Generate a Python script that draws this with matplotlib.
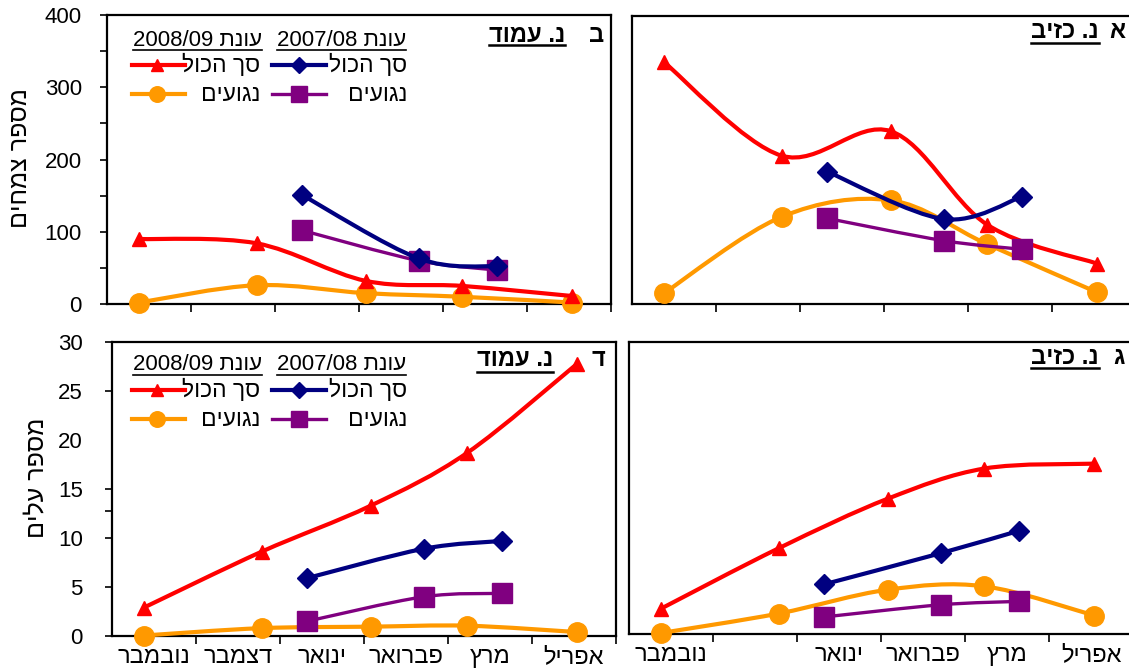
import numpy as np
import matplotlib
matplotlib.use('Agg')
import matplotlib.pyplot as plt
from matplotlib.path import Path
from matplotlib.patches import PathPatch
from matplotlib.lines import Line2D

plt.rcParams['font.family'] = ['Liberation Sans', 'DejaVu Sans']

# matplotlib has no bidi, so Hebrew strings are reversed into visual order
def heb(s):
    return s[::-1]

months = ['נובמבר', 'דצמבר', 'ינואר', 'פברואר', 'מרץ', 'אפריל']
months_kziv_leaves = ['נובמבר', '', 'ינואר', 'פברואר', 'מרץ', 'אפריל']

# sampling dates, in months from 1 November
t_0809 = [0.38, 1.78, 3.08, 4.23, 5.54]
t_0708 = [2.32, 3.71, 4.64]

# א  נ. כזיב - plants
kziv_plants_total_0809 = [336, 206, 240, 110, 56]
kziv_plants_inf_0809 = [15, 121, 144, 83, 16]
kziv_plants_total_0708 = [184, 118, 149]
kziv_plants_inf_0708 = [119, 88, 76]

# ב  נ. עמוד - plants
amud_plants_total_0809 = [90, 84, 32, 25, 11]
amud_plants_inf_0809 = [2, 26, 15, 10, 2]
amud_plants_total_0708 = [151, 63, 52]
amud_plants_inf_0708 = [102, 60, 47]

# ג  נ. כזיב - leaves
kziv_leaves_total_0809 = [2.6, 8.8, 13.9, 17.0, 17.5]
kziv_leaves_inf_0809 = [0.1, 2.1, 4.55, 4.9, 1.9]
kziv_leaves_total_0708 = [5.1, 8.3, 10.6]
kziv_leaves_inf_0708 = [1.75, 3.0, 3.35]

# ד  נ. עמוד - leaves
amud_leaves_total_0809 = [2.9, 8.6, 13.3, 18.7, 27.8]
amud_leaves_inf_0809 = [0.05, 0.8, 0.95, 1.05, 0.4]
amud_leaves_total_0708 = [5.9, 8.9, 9.7]
amud_leaves_inf_0708 = [1.5, 4.0, 4.35]

W, H = 1129, 669
fig = plt.figure(figsize=(W / 100, H / 100), dpi=100)


def fx(px):
    return px / W


def fy(py):
    return 1 - py / H


def add_axes(l, t, r, b):
    return fig.add_axes([fx(l), fy(b), (r - l) / W, (b - t) / H])


# smoothed line like excel (bezier, catmull-rom control points)
def smooth_path(xs, ys):
    pts = np.column_stack([xs, ys]).astype(float)
    n = len(pts)
    verts = [pts[0]]
    codes = [Path.MOVETO]
    for i in range(n - 1):
        p0 = pts[max(i - 1, 0)]
        p1 = pts[i]
        p2 = pts[i + 1]
        p3 = pts[min(i + 2, n - 1)]
        verts += [p1 + (p2 - p0) / 6, p2 - (p3 - p1) / 6, p2]
        codes += [Path.CURVE4] * 3
    return Path(verts, codes)


RED, ORANGE, NAVY, PURPLE = '#FF0000', '#FF9900', '#000080', '#800080'
st_total_0809 = dict(color=RED, lw=3, marker='^', ms=10)
st_inf_0809 = dict(color=ORANGE, lw=3, marker='o', ms=14)
st_inf_0708 = dict(color=PURPLE, lw=2.4, marker='s', ms=15)
st_total_0708 = dict(color=NAVY, lw=3, marker='D', ms=10.5)


def draw_series(ax, t, v, st, z):
    ax.add_patch(PathPatch(smooth_path(t, v), fill=False, edgecolor=st['color'],
                           lw=st['lw'], zorder=z, clip_on=False))
    ax.plot(t, v, ls='none', marker=st['marker'], ms=st['ms'], color=st['color'],
            mec=st['color'], zorder=z + 0.5, clip_on=False)


def underline(txt, y_px, lw=1.5):
    fig.canvas.draw()
    bb = txt.get_window_extent()
    fig.add_artist(Line2D([bb.x0 / W, bb.x1 / W], [fy(y_px), fy(y_px)],
                          transform=fig.transFigure, color='black', lw=lw))


def setup(ax, ymax, ytick_step, labels, show_y):
    ax.set_xlim(0, 6)
    ax.set_ylim(0, ymax)
    for s in ax.spines.values():
        s.set_linewidth(1.6)
    ax.set_xticks(range(1, 7))
    ax.tick_params(axis='x', which='major', direction='out', length=6, width=1.2,
                   labelbottom=False)
    ax.set_xticks(np.arange(6) + 0.5, minor=True)
    ax.set_xticklabels([heb(m) for m in labels], minor=True, fontsize=17)
    ax.tick_params(axis='x', which='minor', length=0, pad=7)
    if show_y:
        ax.set_yticks(np.arange(0, ymax + 0.1, ytick_step))
        ax.tick_params(axis='y', which='both', direction='out', length=5, width=1.2,
                       labelsize=16)
    else:
        ax.set_yticks([])


def draw_legend(y0):
    # header row, then two sample rows
    for right, season in [(262, '2008/09'), (406, '2007/08')]:
        t = fig.text(fx(right), fy(y0), season + ' ' + heb('עונת'), ha='right',
                     va='center', fontsize=16)
        underline(t, y0 + 10, lw=1.2)
    rows = [(y0 + 24.5, st_total_0809, st_total_0708, 'סך הכול'),
            (y0 + 53.5, st_inf_0809, st_inf_0708, 'נגועים')]
    for y, s1, s2, lab in rows:
        for (x0, x1, xm, xt), st in [((132, 185, 157, 260), s1), ((272, 326, 299, 407), s2)]:
            fig.add_artist(Line2D([fx(x0), fx(x1)], [fy(y), fy(y)], transform=fig.transFigure,
                                  color=st['color'], lw=st['lw']))
            fig.add_artist(Line2D([fx(xm)], [fy(y)], transform=fig.transFigure,
                                  color=st['color'], marker=st['marker'],
                                  ms=st['ms'] * 0.8, ls='none'))
            fig.text(fx(xt), fy(y + 1), heb(lab), ha='right', va='center', fontsize=16.5)


panels = [
    # box (l, t, r, b), ymax, step, data, month labels, y axis shown
    ((107, 15, 611, 304), 400, 50, (amud_plants_total_0809, amud_plants_inf_0809,
                                    amud_plants_total_0708, amud_plants_inf_0708), None, True),
    ((632, 16, 1136, 304), 400, 50, (kziv_plants_total_0809, kziv_plants_inf_0809,
                                     kziv_plants_total_0708, kziv_plants_inf_0708), None, False),
    ((112, 342, 616, 636), 30, 5, (amud_leaves_total_0809, amud_leaves_inf_0809,
                                   amud_leaves_total_0708, amud_leaves_inf_0708), months, True),
    ((629, 342, 1133, 634), 30, 5, (kziv_leaves_total_0809, kziv_leaves_inf_0809,
                                    kziv_leaves_total_0708, kziv_leaves_inf_0708),
     months_kziv_leaves, False),
]

axes = []
for box, ymax, step, (tot08, inf08, tot07, inf07), labels, show_y in panels:
    ax = add_axes(*box)
    setup(ax, ymax, step, labels if labels else [''] * 6, show_y)
    draw_series(ax, t_0809, inf08, st_inf_0809, 3)
    draw_series(ax, t_0809, tot08, st_total_0809, 4)
    draw_series(ax, t_0708, inf07, st_inf_0708, 5)
    draw_series(ax, t_0708, tot07, st_total_0708, 6)
    axes.append(ax)

# plants: labels every 100, ticks every 50
ax = axes[0]
ax.set_yticks(np.arange(0, 401, 50))
ax.set_yticklabels([str(v) if v % 100 == 0 else '' for v in range(0, 401, 50)])
ax.tick_params(axis='y', pad=13)
# leaves: odd tick layout of the original
ax = axes[2]
ax.set_yticks(np.arange(0, 31, 5))
ax.yaxis.get_major_ticks()[4].tick1line.set_visible(False)
ax.set_yticks([12.75], minor=True)
ax.tick_params(axis='y', which='minor', length=5, width=1.2)
ax.tick_params(axis='y', pad=16)

# y titles
fig.text(fx(20), fy(158), heb('מספר צמחים'), rotation=90, ha='center', va='center',
         fontsize=18)
fig.text(fx(36), fy(478), heb('מספר עלים'), rotation=90, ha='center', va='center',
         fontsize=18)

# panel titles: (site right edge, letter right edge, y, underline y)
titles = [
    ('נ. עמוד', 'ב', 565, 604, 35, 44.5),
    ('נ. כזיב', 'א', 1099, 1125, 31, 42.5),
    ('נ. עמוד', 'ד', 553, 605, 360, 371.5),
    ('נ. כזיב', 'ג', 1099, 1125, 357, 368),
]
for site, letter, xr, xl, y, yu in titles:
    t = fig.text(fx(xr), fy(y), heb(site), ha='right', va='center', fontsize=17,
                 fontweight='bold')
    underline(t, yu, lw=1.8)
    fig.text(fx(xl), fy(y), letter, ha='right', va='center', fontsize=17,
             fontweight='bold')

draw_legend(40)
draw_legend(365)

fig.savefig('out.png', dpi=100)
